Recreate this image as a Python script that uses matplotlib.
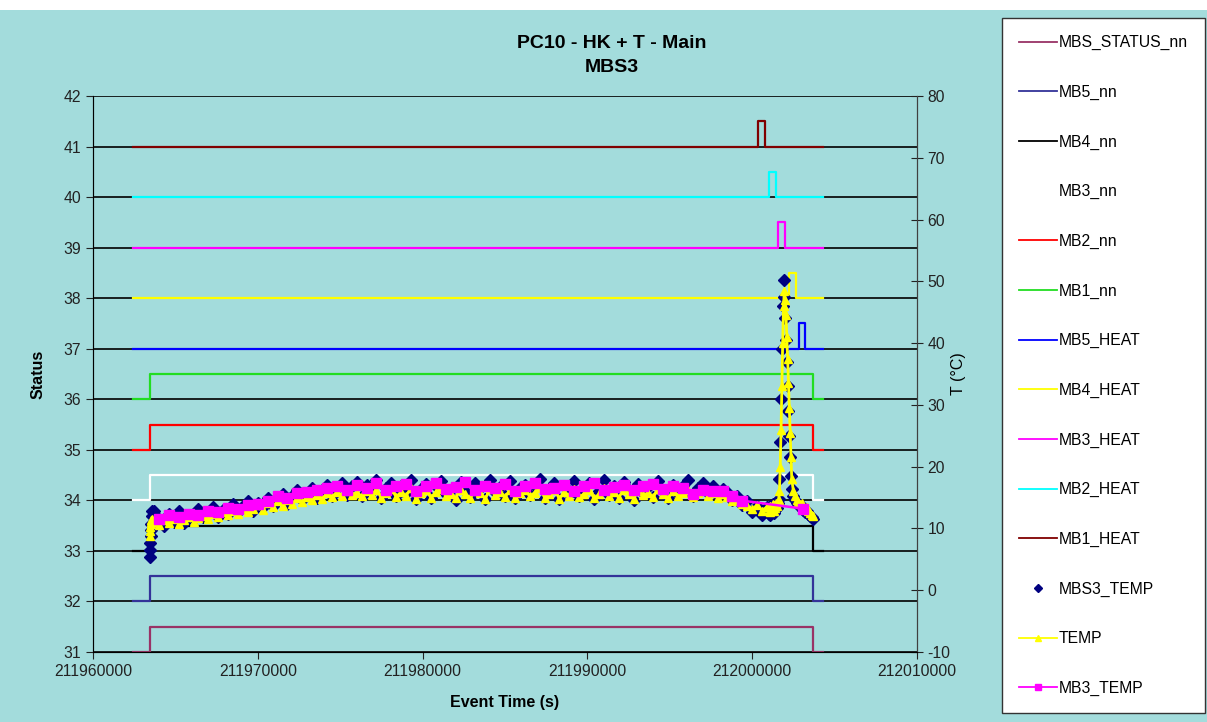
import numpy as np
import matplotlib.pyplot as plt
from matplotlib.patches import Rectangle
from matplotlib.ticker import MultipleLocator, FuncFormatter

plt.rcParams['font.family'] = ['Liberation Sans', 'DejaVu Sans']
plt.rcParams['axes.unicode_minus'] = False

BG = '#a3dcdc'

###### status lines (left axis)
# start of record / switch on / switch off / end of record
run_t = [211962430, 211963460, 212003680, 212004290]

nn_names = ['MBS_STATUS_nn', 'MB5_nn', 'MB4_nn', 'MB3_nn', 'MB2_nn', 'MB1_nn']
nn_low = [31, 32, 33, 34, 35, 36]
nn_high = [31.5, 32.5, 33.5, 34.5, 35.5, 36.5]
nn_colors = ['#993366', '#333399', '#000000', '#ffffff', '#ff0000', '#22dd22']

heat_names = ['MB5_HEAT', 'MB4_HEAT', 'MB3_HEAT', 'MB2_HEAT', 'MB1_HEAT']
heat_low = [37, 38, 39, 40, 41]
heat_high = [37.5, 38.5, 39.5, 40.5, 41.5]
heat_on = [212002830, 212002220, 212001560, 212001010, 212000380]
heat_off = [212003190, 212002650, 212001980, 212001430, 212000780]
heat_colors = ['#0000ff', '#ffff00', '#ff00ff', '#00ffff', '#800000']

###### temperatures (right axis)
# sample times: switch-on burst, slow logging, fast logging around the peak, tail
t_start = np.arange(211963440, 211963600, 20)
t_main = np.arange(211963700, 212001000, 300)
t_spike = np.arange(212001000, 212002450, 50)
t_tail = np.arange(212002500, 212003750, 100)

mbs3_start = [5.3, 6.5, 7.6, 8.8, 9.7, 10.8, 12.0, 12.8]
mbs3_main = [12.9, 11.6, 10.4, 12.3, 11.0, 12.8, 10.9, 12.1, 11.5, 13.2,
             11.8, 12.6, 13.5, 11.9, 13.0, 12.4, 14.0, 12.6, 13.6, 14.4,
             12.9, 14.1, 13.4, 15.0, 13.6, 14.8, 15.6, 14.0, 15.3, 16.2,
             14.6, 15.8, 16.6, 14.9, 16.1, 17.0, 15.2, 16.5, 17.3, 15.4,
             16.8, 17.5,
             15.3, 17.1, 16.0, 17.8, 14.9, 16.6, 17.4, 15.2, 16.9, 15.7,
             17.9, 14.7, 16.4, 17.2, 15.0, 16.8, 17.7, 15.5, 16.2, 14.6,
             17.5, 16.0, 15.1, 17.3, 16.6, 14.8, 17.8, 15.9, 16.7, 15.3,
             17.6, 14.9, 16.5, 17.1, 15.4, 16.9, 18.0, 15.0, 16.3, 17.4,
             14.7, 16.8, 15.6, 17.7, 15.2, 16.4, 17.3, 14.8, 16.1, 17.8,
             15.4, 16.9, 15.0, 17.5, 16.2, 14.6, 17.2, 15.8, 16.7, 15.1,
             17.6, 16.0, 14.9, 17.1, 15.6, 16.8, 17.9, 15.3, 16.5, 17.4,
             15.7, 16.9, 15.2, 16.4,
             15.9, 14.6, 15.2, 13.8, 14.4, 12.6, 13.7, 12.2, 13.4]
mbs3_spike = [12.4, 13.6, 12.1, 13.2, 12.8, 14.0, 12.5, 13.7, 13.0, 14.2,
              13.3, 14.1, 14.8, 18.0, 24.0, 31.0, 39.0, 46.0, 50.2, 47.5,
              44.0, 40.5, 37.0, 33.0, 29.0, 25.0, 21.5, 18.5, 16.4]
mbs3_tail = [15.2, 14.6, 14.1, 13.9, 13.4, 13.6, 13.0, 12.7, 12.9, 12.3,
             12.0, 11.8, 11.5]

temp_start = [8.8, 9.6, 10.3, 10.8, 11.1, 11.4, 11.0, 11.5]
temp_main = [11.2, 10.6, 11.4, 10.9, 11.6, 10.8, 11.3, 11.9, 11.1, 11.7,
             12.0, 11.5, 12.4, 11.8, 12.6, 12.1, 12.9, 12.3, 13.1, 12.6,
             13.2, 13.8, 13.0, 14.1, 13.5, 14.4, 13.7, 14.6, 14.0, 14.9,
             14.3, 15.1, 14.6, 15.4, 14.8, 15.7, 15.1, 15.9, 15.3, 16.1,
             15.4, 15.8,
             15.2, 16.0, 15.4, 16.3, 14.9, 15.8, 16.4, 15.1, 15.9, 15.3,
             16.5, 14.8, 15.7, 16.2, 15.0, 15.9, 16.4, 15.3, 15.6, 14.9,
             16.3, 15.5, 15.0, 16.1, 15.8, 14.8, 16.4, 15.4, 15.9, 15.1,
             16.2, 14.9, 15.7, 16.3, 15.2, 15.8, 16.6, 15.0, 15.5, 16.2,
             14.8, 15.9, 15.3, 16.4, 15.1, 15.6, 16.2, 14.9, 15.5, 16.5,
             15.2, 15.9, 15.0, 16.3, 15.6, 14.8, 16.1, 15.4, 15.8, 15.1,
             16.4, 15.5, 14.9, 16.0, 15.3, 15.8, 16.3, 15.1, 15.7, 16.2,
             15.2, 15.8, 15.0, 15.6,
             15.1, 14.4, 14.7, 13.9, 13.6, 13.1, 13.8, 12.9, 13.5]
temp_spike = [12.8, 13.7, 12.7, 13.5, 13.1, 13.9, 12.9, 13.8, 13.3, 14.1,
              13.6, 14.3, 14.6, 16.0, 20.0, 26.0, 33.0, 40.0, 46.0, 48.5,
              47.0, 44.5, 41.0, 37.5, 33.5, 29.5, 25.5, 21.5, 18.0]
temp_tail = [16.0, 15.2, 14.6, 14.3, 13.9, 14.1, 13.5, 13.2, 13.4, 12.8,
             12.5, 12.2, 12.0]

# MB3 is logged less often and drops out during the peak
mb3_t = np.append(np.arange(211964000, 211999600, 600), 212003100)
mb3_temp = [11.6, 12.1, 11.8, 12.4, 12.2, 12.9, 12.6, 13.3, 13.1, 13.8,
            14.0, 14.5, 15.2, 14.9, 15.7, 15.9, 16.3, 16.5,
            16.9, 16.2, 17.1, 16.6, 17.4, 16.3, 16.8, 17.2, 16.0, 16.9,
            17.3, 16.4, 16.7, 17.5, 16.2, 16.9, 16.5, 17.2, 16.1, 16.8,
            17.3, 16.4, 16.6, 17.1, 16.0, 16.9, 17.4, 16.3, 16.7, 17.0,
            16.2, 16.8, 17.2, 16.4, 16.9,
            16.5, 15.6, 16.3, 16.1, 16.0, 15.3, 14.5,
            13.2]

temp_t = np.concatenate([t_start, t_main, t_spike, t_tail])
mbs3_all = mbs3_start + mbs3_main + mbs3_spike + mbs3_tail
temp_all = temp_start + temp_main + temp_spike + temp_tail


fig = plt.figure(figsize=(12.07, 7.22), dpi=100)
fig.patch.set_facecolor('white')
fig.patches.append(Rectangle((0, 0), 1, 1 - 10 / 722, transform=fig.transFigure,
                             facecolor=BG, edgecolor='none', zorder=-10))

ax = fig.add_axes([93 / 1207, 1 - 652 / 722, (917 - 93) / 1207, (652 - 96) / 722])
ax.set_facecolor(BG)
ax.patch.set_alpha(0)

handles = []
for name, lo, hi, c in zip(nn_names, nn_low, nn_high, nn_colors):
    h, = ax.plot(run_t, [lo, hi, lo, lo], drawstyle='steps-post', color=c, lw=1.6, label=name)
    handles.append(h)
for name, lo, hi, on, off, c in zip(heat_names, heat_low, heat_high, heat_on, heat_off, heat_colors):
    h, = ax.plot([run_t[0], on, off, run_t[3]], [lo, hi, lo, lo], drawstyle='steps-post',
                 color=c, lw=1.6, label=name)
    handles.append(h)

ax.set_xlim(211960000, 212010000)
ax.set_ylim(31, 42)
ax.yaxis.set_major_locator(MultipleLocator(1))
ax.xaxis.set_major_locator(MultipleLocator(10000))
ax.xaxis.set_major_formatter(FuncFormatter(lambda v, p: '%d' % v))
ax.yaxis.grid(True, color='black', lw=1.2)
ax.set_axisbelow(True)
ax.tick_params(axis='both', direction='out', length=5, labelsize=11.3, colors='#222222')
for s in ['left', 'bottom', 'right']:
    ax.spines[s].set_color('#404040')
ax.spines['top'].set_visible(False)

ax2 = ax.twinx()
ax2.set_ylim(-10, 80)
ax2.yaxis.set_major_locator(MultipleLocator(10))
ax2.tick_params(axis='y', direction='inout', length=8, labelsize=11.3, colors='#222222')
ax2.spines['right'].set_color('#404040')
ax2.spines['top'].set_visible(False)

h, = ax2.plot(temp_t, mbs3_all, linestyle='none', marker='D', markersize=6,
              color='#000080', label='MBS3_TEMP')
handles.append(h)
h, = ax2.plot(temp_t, temp_all, color='#ffff00', lw=2, marker='^', markersize=6,
              label='TEMP')
handles.append(h)
h, = ax2.plot(mb3_t, mb3_temp, color='#ff00ff', lw=1.8, marker='s', markersize=6.5,
              label='MB3_TEMP')
handles.append(h)

fig.text(0.507, 1 - 43 / 722, 'PC10 - HK + T - Main', ha='center', va='center',
         fontsize=14, fontweight='bold')
fig.text(0.507, 1 - 68 / 722, 'MBS3', ha='center', va='center', fontsize=14, fontweight='bold')
fig.text(505 / 1207, 1 - 702 / 722, 'Event Time (s)', ha='center', va='center',
         fontsize=11.5, fontweight='bold')
fig.text(38 / 1207, 1 - 374 / 722, 'Status', ha='center', va='center', rotation=90,
         fontsize=11.5, fontweight='bold')
fig.text(959 / 1207, 1 - 374 / 722, 'T (°C)', ha='center', va='center', rotation=90,
         fontsize=11.5)

leg = fig.legend(handles, [x.get_label() for x in handles], loc='upper left',
                 bbox_to_anchor=(1002 / 1207, 1 - 18 / 722, 203 / 1207, 0), mode='expand',
                 borderaxespad=0, fontsize=11.3, labelspacing=2.2, handlelength=2.4,
                 handletextpad=0.1, borderpad=1.1, fancybox=False, framealpha=1,
                 edgecolor='#333333', markerscale=0.65)
leg.get_frame().set_facecolor('white')
for line in leg.get_lines():
    line.set_linewidth(1.3)

fig.savefig('out.png', dpi=100)
